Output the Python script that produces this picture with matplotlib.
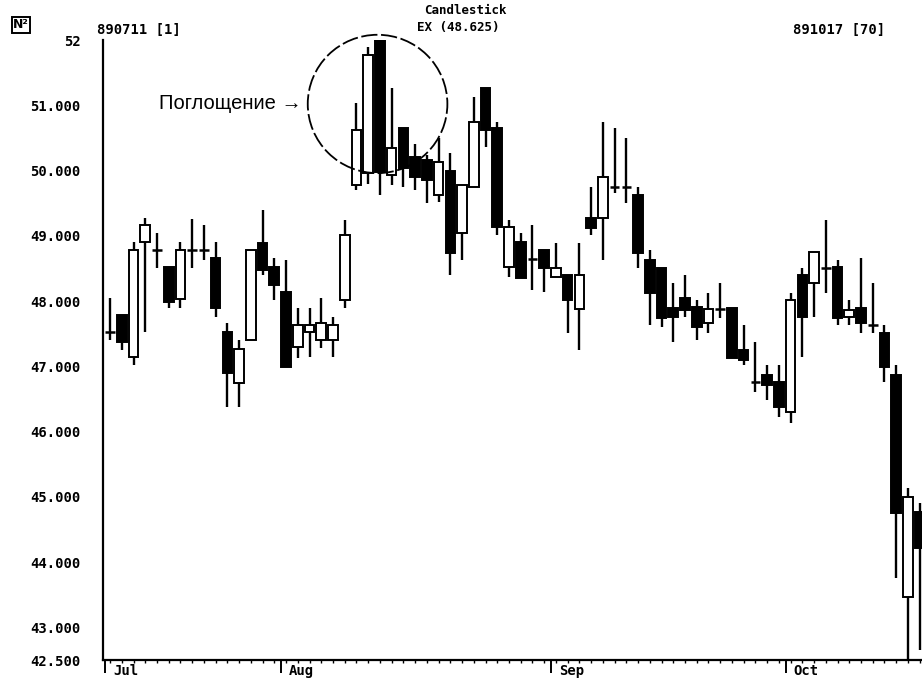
import matplotlib.pyplot as plt
from matplotlib.patches import Ellipse

# daily OHLC, 890711 .. 891017 (70 sessions)
opens = [47.53, 47.79, 47.15, 48.90, 48.78, 48.52, 48.03, 48.78, 48.78, 48.66,
         47.53, 46.75, 47.40, 48.89, 48.52, 48.14, 47.30, 47.53, 47.40, 47.40,
         48.02, 49.78, 49.96, 52.05, 49.93, 50.65, 50.20, 50.16, 49.63, 50.00,
         49.04, 49.75, 51.26, 50.65, 48.52, 48.90, 48.65, 48.78, 48.37, 48.40,
         47.88, 49.27, 49.27, 49.75, 49.75, 49.63, 48.63, 48.50, 47.90, 48.05,
         47.91, 47.67, 47.88, 47.90, 47.25, 46.76, 46.87, 46.76, 46.30, 48.40,
         48.28, 48.50, 48.52, 47.76, 47.90, 47.64, 47.51, 46.87, 43.47, 44.77]
highs = [48.05, 47.79, 48.90, 49.27, 49.04, 48.52, 48.90, 49.26, 49.17, 48.90,
         47.67, 47.40, 48.78, 49.40, 48.66, 48.63, 47.90, 47.90, 48.05, 47.76,
         49.24, 51.03, 51.89, 52.05, 51.26, 50.65, 50.40, 50.24, 50.50, 50.27,
         49.78, 51.13, 51.26, 50.74, 49.24, 49.04, 49.17, 48.78, 48.89, 48.40,
         48.89, 49.75, 50.74, 50.65, 50.50, 49.75, 48.78, 48.50, 48.28, 48.40,
         48.02, 48.13, 48.28, 47.90, 47.64, 47.38, 47.02, 47.02, 48.13, 48.50,
         48.75, 49.24, 48.63, 48.02, 48.66, 48.28, 47.64, 47.02, 45.14, 44.91]
lows = [47.41, 47.25, 47.02, 47.53, 48.50, 47.90, 47.90, 48.50, 48.63, 47.76,
        46.38, 46.38, 47.40, 48.40, 48.02, 46.99, 47.13, 47.15, 47.28, 47.15,
        47.90, 49.70, 49.80, 49.62, 49.78, 49.75, 49.70, 49.50, 49.52, 48.40,
        48.63, 49.75, 50.36, 49.01, 48.37, 48.35, 48.17, 48.14, 48.37, 47.51,
        47.25, 49.01, 48.63, 49.66, 49.50, 48.50, 47.64, 47.60, 47.38, 47.76,
        47.40, 47.51, 47.74, 47.13, 47.02, 46.60, 46.49, 46.23, 46.13, 47.15,
        47.76, 48.13, 47.64, 47.64, 47.51, 47.51, 46.76, 43.76, 42.40, 42.66]
closes = [47.53, 47.38, 48.78, 49.17, 48.78, 47.99, 48.78, 48.78, 48.78, 47.90,
          46.90, 47.27, 48.78, 48.48, 48.25, 46.99, 47.64, 47.64, 47.67, 47.64,
          49.01, 50.62, 51.77, 49.98, 50.35, 50.04, 49.90, 49.86, 50.13, 48.74,
          49.78, 50.74, 50.62, 49.14, 49.14, 48.35, 48.65, 48.51, 48.51, 48.02,
          48.40, 49.12, 49.90, 49.75, 49.75, 48.74, 48.13, 47.74, 47.76, 47.87,
          47.60, 47.88, 47.88, 47.13, 47.10, 46.76, 46.72, 46.38, 48.02, 47.76,
          48.75, 48.50, 47.74, 47.87, 47.67, 47.64, 46.99, 44.76, 45.00, 44.22]

month_labels = ['Jul', 'Aug', 'Sep', 'Oct']
month_starts = [0, 15, 38, 58]
y_ticks = [42.5, 43, 44, 45, 46, 47, 48, 49, 50, 51, 52]
y_tick_labels = ['42.500', '43.000', '44.000', '45.000', '46.000', '47.000',
                 '48.000', '49.000', '50.000', '51.000', '52']

W, H = 922, 679
fig = plt.figure(figsize=(W / 100, H / 100), dpi=100)
ax = fig.add_axes([103 / W, 19 / H, 819 / W, 620 / H])

mono = 'DejaVu Sans Mono'
body_w = 0.82

xs = list(range(len(opens)))
# wicks first so the white bodies sit on top of them
ax.vlines(xs, lows, highs, color='black', lw=1.7, zorder=1)

for i in xs:
    o, c = opens[i], closes[i]
    if c > o:
        ax.bar(i, c - o, bottom=o, width=body_w, color='white',
               edgecolor='black', lw=1.4, zorder=2)
    elif c < o:
        ax.bar(i, o - c, bottom=c, width=body_w, color='black',
               edgecolor='black', lw=1.4, zorder=2)
    else:
        ax.hlines(o, i - body_w / 2, i + body_w / 2, color='black', lw=1.8, zorder=2)

# engulfing pattern marker
ax.add_patch(Ellipse((22.8, 51.02), 11.9, 2.12, fill=False, color='black',
                     lw=1.3, ls=(0, (9, 2)), zorder=3, clip_on=False))
ax.text(16.3, 51.02, 'Поглощение →', ha='right', va='center',
        fontsize=14.5, family='Liberation Sans')

ax.set_xlim(-0.6, 69.2)
ax.set_ylim(42.5, 52)

ax.spines['top'].set_visible(False)
ax.spines['right'].set_visible(False)
ax.spines['left'].set_linewidth(1.6)
ax.spines['bottom'].set_linewidth(1.6)

ax.set_yticks(y_ticks)
ax.set_yticklabels(y_tick_labels, family=mono, fontweight='bold', fontsize=10)
ax.tick_params(axis='y', length=0, pad=16)

ax.set_xticks([m - 0.4 for m in month_starts])
ax.set_xticklabels([])
ax.set_xticks(xs, minor=True)
ax.tick_params(axis='x', which='major', direction='out', length=9, width=1.4)
ax.tick_params(axis='x', which='minor', direction='out', length=2.5, width=1.0)
for m, lab in zip(month_starts, month_labels):
    ax.text(m + 0.25, -0.006, lab, transform=ax.get_xaxis_transform(),
            ha='left', va='top', family=mono, fontweight='bold', fontsize=10)

# header line
fig.text(97 / W, 1 - 30 / H, '890711 [1]', family=mono, fontweight='bold',
         fontsize=10, va='center', ha='left')
fig.text(793 / W, 1 - 30 / H, '891017 [70]', family=mono, fontweight='bold',
         fontsize=10, va='center', ha='left')
fig.text(465 / W, 1 - 11 / H, 'Candlestick', family=mono, fontweight='bold',
         fontsize=9, va='center', ha='center')
fig.text(458 / W, 1 - 28 / H, 'EX (48.625)', family=mono, fontweight='bold',
         fontsize=9, va='center', ha='center')
fig.text(13 / W, 1 - 25 / H, 'N²', family='DejaVu Sans', fontweight='bold',
         fontsize=9, va='center', ha='left',
         bbox=dict(boxstyle='square,pad=0.1', fc='white', ec='black', lw=1.4))

fig.savefig('out.png', dpi=100)
